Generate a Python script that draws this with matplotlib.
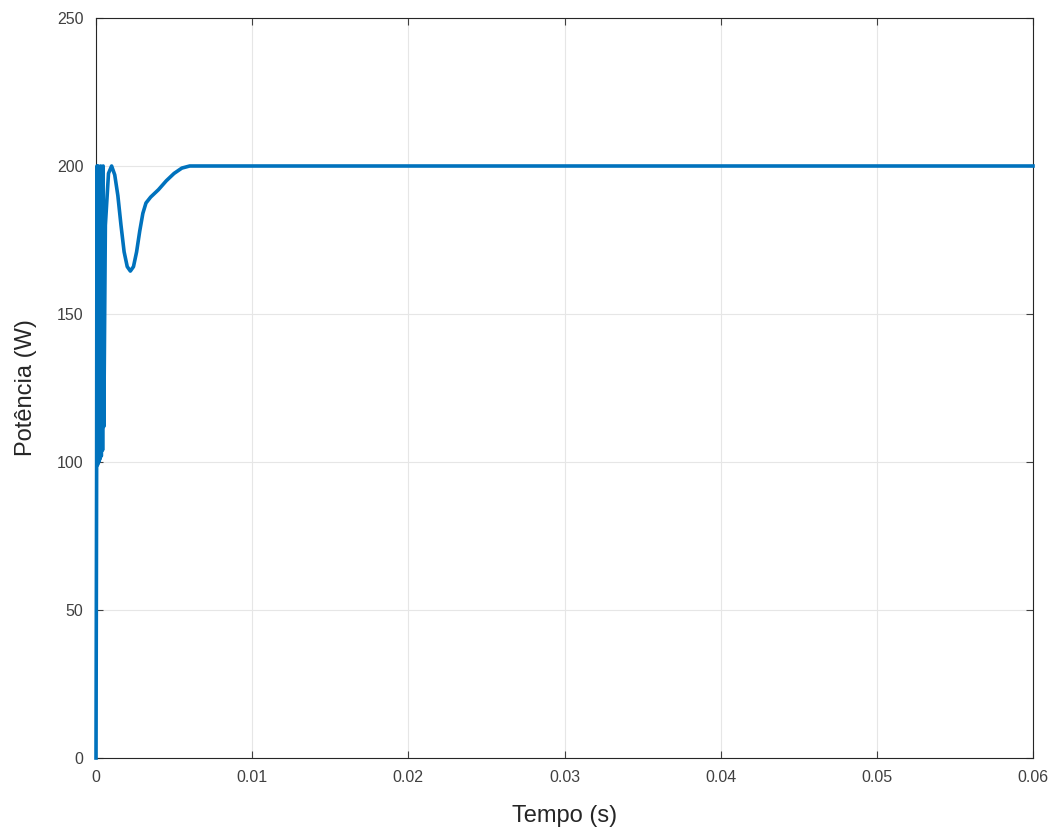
import matplotlib
matplotlib.use("Agg")
import matplotlib.pyplot as plt

plt.rcParams['font.family'] = ['Liberation Sans', 'DejaVu Sans']

# time (s) and power (W)
tempo = [0.0, 0.00004, 0.00006, 0.00010, 0.00014, 0.00018, 0.00022, 0.00026,
         0.00030, 0.00034, 0.00038, 0.00042, 0.00046, 0.00050, 0.00060,
         0.00080, 0.00100, 0.00120, 0.00140, 0.00160, 0.00180, 0.00200,
         0.00220, 0.00240, 0.00260, 0.00280, 0.00300, 0.00320, 0.00350,
         0.00400, 0.00450, 0.00500, 0.00550, 0.00600, 0.0100, 0.0200,
         0.0300, 0.0400, 0.0500, 0.0600]
potencia = [0.0, 98.0, 200.0, 99.0, 200.0, 100.0, 199.0, 101.0,
            200.0, 102.0, 199.0, 104.0, 200.0, 112.0, 180.0,
            197.5, 200.0, 197.0, 190.0, 180.0, 171.0, 166.0,
            164.5, 166.0, 171.0, 178.0, 184.0, 187.5, 189.5,
            192.0, 195.0, 197.5, 199.3, 200.0, 200.0, 200.0,
            200.0, 200.0, 200.0, 200.0]

xticks = [0, 0.01, 0.02, 0.03, 0.04, 0.05, 0.06]
xticklabels = ['0', '0.01', '0.02', '0.03', '0.04', '0.05', '0.06']
yticks = [0, 50, 100, 150, 200, 250]

fig = plt.figure(figsize=(10.61, 8.32), dpi=100)
ax = fig.add_axes([96 / 1061, 1 - 758 / 832, 937 / 1061, 740 / 832])

ax.plot(tempo, potencia, color='#0072BD', linewidth=2.6, clip_on=False,
        zorder=3)

ax.set_xlim(0, 0.06)
ax.set_ylim(0, 250)
ax.set_xticks(xticks, xticklabels)
ax.set_yticks(yticks)
ax.grid(True, color='#e6e6e6', linewidth=0.8)
ax.set_axisbelow(True)
ax.tick_params(direction='in', top=True, right=True, labelsize=11.5,
               colors='#404040', length=5, width=0.8, pad=9)
for s in ax.spines.values():
    s.set_color('#262626')
    s.set_linewidth(0.8)

ax.set_xlabel('Tempo (s)', fontsize=17, color='#262626', labelpad=14)
ax.set_ylabel('Potência (W)', fontsize=17, color='#262626', labelpad=14)

fig.savefig('out.png', dpi=100)
